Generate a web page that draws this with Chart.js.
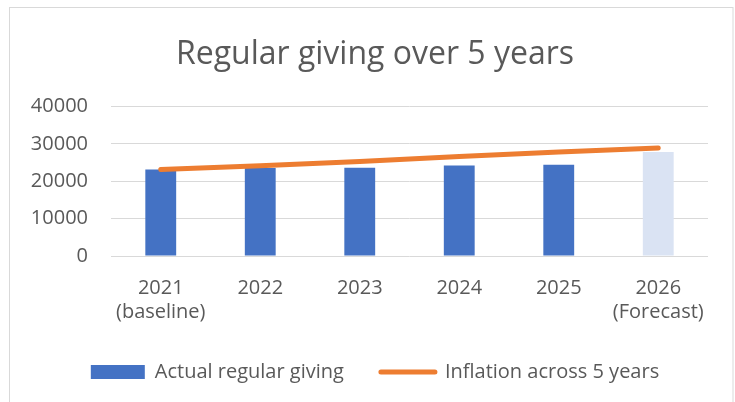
<!DOCTYPE html>
<html>
<head>
<meta charset="utf-8">
<script src="https://cdn.jsdelivr.net/npm/chart.js@4"></script>
<style>
  html, body { margin: 0; padding: 0; background: #ffffff; }
  #wrap { position: relative; width: 735px; height: 402px; }
  canvas { display: block; }
</style>
</head>
<body>
<div id="wrap"><canvas id="c" width="735" height="402"></canvas></div>
<script>
const categories = [["2021", "(baseline)"], ["2022"], ["2023"], ["2024"], ["2025"], ["2026", "(Forecast)"]];
const actualGiving = [23100, 23500, 23600, 24200, 24400, 27800];
const inflation = [23100, 24100, 25300, 26600, 27800, 28900];
const yTicks = [0, 10000, 20000, 30000, 40000];
const barColors = ["#4472C4", "#4472C4", "#4472C4", "#4472C4", "#4472C4", "#DAE3F3"];

const FONT = "'Open Sans', Lato, sans-serif";
const TEXT = "#595959";

const borderPlugin = {
  id: "frame",
  beforeDraw(chart) {
    const ctx = chart.ctx;
    ctx.save();
    ctx.fillStyle = "#ffffff";
    ctx.fillRect(0, 0, chart.width, chart.height);
    ctx.strokeStyle = "#d9d9d9";
    ctx.lineWidth = 1;
    ctx.strokeRect(9.5, 7.5, 723.5, 400);
    ctx.restore();
  }
};

new Chart(document.getElementById("c"), {
  data: {
    labels: categories,
    datasets: [
      {
        type: "bar",
        label: "Actual regular giving",
        data: actualGiving,
        backgroundColor: barColors,
        borderWidth: 0,
        categoryPercentage: 0.62,
        barPercentage: 0.5,
        order: 1
      },
      {
        type: "line",
        label: "Inflation across 5 years",
        data: inflation,
        borderColor: "#ED7D31",
        backgroundColor: "#ED7D31",
        borderWidth: 5,
        borderCapStyle: "round",
        pointRadius: 0,
        pointHoverRadius: 0,
        tension: 0,
        fill: false,
        order: 0
      }
    ]
  },
  options: {
    responsive: false,
    animation: false,
    devicePixelRatio: 1,
    layout: { padding: { left: 42, right: 27, top: 0, bottom: 10 } },
    plugins: {
      tooltip: { enabled: false },
      title: {
        display: true,
        text: "Regular giving over 5 years",
        color: TEXT,
        font: { family: FONT, size: 32, weight: "normal", lineHeight: 1.2 },
        padding: { top: 36, bottom: 32 }
      },
      legend: {
        display: true,
        position: "bottom",
        labels: {
          color: TEXT,
          font: { family: FONT, size: 20 },
          usePointStyle: true,
          pointStyleWidth: 54,
          boxHeight: 14,
          padding: 37,
          sort: (a, b) => a.datasetIndex - b.datasetIndex,
          generateLabels(chart) {
            const items = Chart.defaults.plugins.legend.labels.generateLabels(chart);
            items.forEach(it => {
              const ds = chart.data.datasets[it.datasetIndex];
              if (ds.type === "line") {
                it.pointStyle = "line";
                it.lineWidth = 5;
                it.lineCap = "round";
                it.strokeStyle = ds.borderColor;
              } else {
                it.pointStyle = "rect";
                it.lineWidth = 0;
                it.fillStyle = barColors[0];
                it.strokeStyle = barColors[0];
              }
            });
            return items;
          }
        }
      }
    },
    scales: {
      x: {
        grid: { display: false, drawTicks: false },
        border: { display: false },
        ticks: {
          color: TEXT,
          font: { family: FONT, size: 20, lineHeight: 1.22 },
          padding: 20,
          maxRotation: 0,
          autoSkip: false
        },
        afterFit(scale) { scale.height = 69; }
      },
      y: {
        min: 0,
        max: 40000,
        afterBuildTicks(scale) { scale.ticks = yTicks.map(v => ({ value: v })); },
        grid: { color: "#d9d9d9", lineWidth: 1, drawTicks: false },
        border: { display: false },
        ticks: {
          color: TEXT,
          font: { family: FONT, size: 20 },
          padding: 23,
          callback: (v) => String(v)
        },
        afterFit(scale) {
          scale.width = 69;
          scale._computeLabelArea = function () { return undefined; };
        }
      }
    }
  },
  plugins: [borderPlugin]
});
</script>
</body>
</html>
